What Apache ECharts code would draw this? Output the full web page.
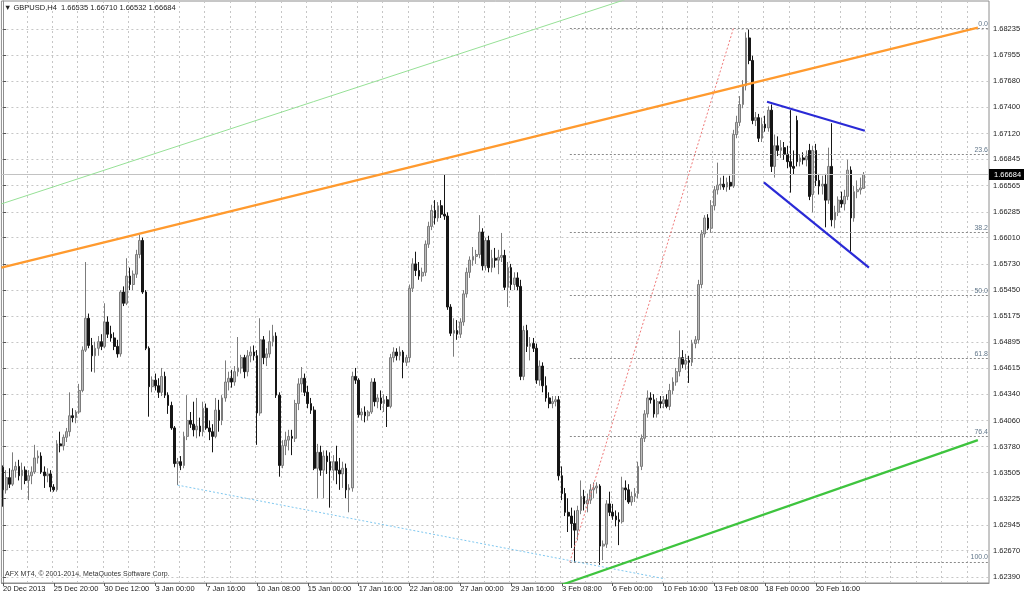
<!DOCTYPE html>
<html><head><meta charset="utf-8">
<script src="https://cdn.jsdelivr.net/npm/echarts@6/dist/echarts.min.js"></script>
<style>html,body{margin:0;padding:0;background:#fff}#c{width:1024px;height:595px}</style>
</head><body><div id="c"></div>
<script>
// ---------------- data ----------------
const symbolName = 'GBPUSD,H4';
const headerValues = ['1.66535', '1.66710', '1.66532', '1.66684'];
const copyrightText = 'AFX MT4, \u00a9 2001-2014, MetaQuotes Software Corp.';
const xTickLabels = ['20 Dec 2013', '25 Dec 20:00', '30 Dec 12:00', '3 Jan 00:00', '7 Jan 16:00', '10 Jan 08:00',
  '15 Jan 00:00', '17 Jan 16:00', '22 Jan 08:00', '27 Jan 00:00', '29 Jan 16:00', '3 Feb 08:00', '6 Feb 00:00',
  '10 Feb 16:00', '13 Feb 08:00', '18 Feb 00:00', '20 Feb 16:00'];
const barsPerLabel = 16;
const barsPerGridLine = 8;
const totalSlots = 311;
const yTickLabels = ['1.68235', '1.67955', '1.67680', '1.67400', '1.67120', '1.66845', '1.66565', '1.66285',
  '1.66010', '1.65730', '1.65450', '1.65175', '1.64895', '1.64615', '1.64340', '1.64060', '1.63780', '1.63505',
  '1.63225', '1.62945', '1.62670', '1.62390'];
const yMin = 1.62326, yMax = 1.68534;
const lastPrice = 1.66684;
// H4 candles: [open, close, low, high]
const ohlc = [
[1.6356,1.6332,1.6314,1.6358],[1.6332,1.6345,1.6328,1.6353],[1.6345,1.6338,1.6334,1.6355],[1.6338,1.6353,1.6336,1.6372],
[1.6353,1.6357,1.6345,1.6362],[1.6357,1.6347,1.6342,1.6364],[1.6347,1.6353,1.6332,1.6361],[1.6353,1.6342,1.6338,1.6357],
[1.6342,1.6347,1.6321,1.6353],[1.6347,1.6351,1.6338,1.6357],[1.6351,1.6366,1.6349,1.6380],[1.6366,1.6368,1.6360,1.6374],
[1.6368,1.6351,1.6349,1.6372],[1.6351,1.6347,1.6334,1.6357],[1.6347,1.6349,1.6340,1.6355],[1.6349,1.6335,1.6330,1.6353],
[1.6335,1.6332,1.6330,1.6338],[1.6332,1.6381,1.6330,1.6385],[1.6381,1.6379,1.6372,1.6394],[1.6379,1.6388,1.6374,1.6391],
[1.6388,1.6394,1.6383,1.6398],[1.6394,1.6411,1.6389,1.6436],[1.6411,1.6409,1.6404,1.6419],[1.6409,1.6415,1.6403,1.6417],
[1.6415,1.6438,1.6413,1.6445],[1.6438,1.6481,1.6436,1.6485],[1.6481,1.6515,1.6479,1.6575],[1.6515,1.6486,1.6483,1.6520],
[1.6486,1.6475,1.6458,1.6494],[1.6475,1.6483,1.6457,1.6490],[1.6483,1.6490,1.6475,1.6496],[1.6490,1.6485,1.6481,1.6498],
[1.6485,1.6511,1.6483,1.6531],[1.6511,1.6498,1.6494,1.6517],[1.6498,1.6494,1.6490,1.6507],[1.6494,1.6485,1.6481,1.6500],
[1.6485,1.6477,1.6473,1.6492],[1.6477,1.6543,1.6474,1.6545],[1.6543,1.6531,1.6528,1.6549],[1.6531,1.6560,1.6529,1.6579],
[1.6560,1.6551,1.6545,1.6569],[1.6551,1.6562,1.6545,1.6566],[1.6562,1.6583,1.6558,1.6588],[1.6583,1.6598,1.6579,1.6604],
[1.6598,1.6543,1.6541,1.6601],[1.6543,1.6483,1.6481,1.6545],[1.6483,1.6442,1.6410,1.6485],[1.6442,1.6449,1.6436,1.6453],
[1.6449,1.6443,1.6438,1.6456],[1.6443,1.6436,1.6430,1.6451],[1.6436,1.6453,1.6432,1.6462],[1.6453,1.6433,1.6430,1.6458],
[1.6433,1.6422,1.6413,1.6436],[1.6422,1.6398,1.6396,1.6426],[1.6398,1.6360,1.6356,1.6400],[1.6360,1.6362,1.6337,1.6366],
[1.6362,1.6358,1.6353,1.6368],[1.6358,1.6389,1.6355,1.6394],[1.6389,1.6406,1.6385,1.6433],[1.6406,1.6402,1.6398,1.6415],
[1.6402,1.6396,1.6389,1.6426],[1.6396,1.6400,1.6387,1.6430],[1.6400,1.6394,1.6389,1.6409],[1.6394,1.6419,1.6389,1.6426],
[1.6419,1.6398,1.6396,1.6424],[1.6398,1.6394,1.6385,1.6406],[1.6394,1.6389,1.6372,1.6402],[1.6389,1.6417,1.6387,1.6430],
[1.6417,1.6406,1.6394,1.6428],[1.6406,1.6430,1.6401,1.6433],[1.6430,1.6447,1.6426,1.6470],[1.6447,1.6451,1.6438,1.6458],
[1.6451,1.6447,1.6441,1.6460],[1.6447,1.6458,1.6443,1.6464],[1.6458,1.6462,1.6453,1.6495],[1.6462,1.6473,1.6456,1.6476],
[1.6473,1.6458,1.6451,1.6476],[1.6458,1.6475,1.6453,1.6481],[1.6475,1.6479,1.6468,1.6485],[1.6479,1.6475,1.6470,1.6486],
[1.6475,1.6414,1.6380,1.6481],[1.6414,1.6492,1.6411,1.6515],[1.6492,1.6473,1.6466,1.6496],[1.6473,1.6477,1.6464,1.6483],
[1.6477,1.6490,1.6473,1.6502],[1.6490,1.6496,1.6485,1.6508],[1.6496,1.6433,1.6430,1.6500],[1.6433,1.6358,1.6346,1.6436],
[1.6358,1.6379,1.6355,1.6385],[1.6379,1.6385,1.6369,1.6394],[1.6385,1.6389,1.6374,1.6396],[1.6389,1.6387,1.6369,1.6396],
[1.6387,1.6424,1.6383,1.6428],[1.6424,1.6445,1.6417,1.6451],[1.6445,1.6451,1.6436,1.6463],[1.6451,1.6436,1.6432,1.6456],
[1.6436,1.6424,1.6419,1.6443],[1.6424,1.6417,1.6413,1.6430],[1.6417,1.6355,1.6353,1.6421],[1.6355,1.6372,1.6323,1.6381],
[1.6372,1.6353,1.6347,1.6379],[1.6353,1.6368,1.6323,1.6374],[1.6368,1.6362,1.6349,1.6374],[1.6362,1.6353,1.6313,1.6372],
[1.6353,1.6362,1.6342,1.6369],[1.6362,1.6353,1.6338,1.6379],[1.6353,1.6349,1.6332,1.6366],[1.6349,1.6355,1.6334,1.6362],
[1.6355,1.6332,1.6323,1.6360],[1.6332,1.6334,1.6308,1.6338],[1.6334,1.6453,1.6330,1.6458],[1.6453,1.6449,1.6445,1.6462],
[1.6449,1.6412,1.6409,1.6451],[1.6412,1.6415,1.6406,1.6419],[1.6415,1.6411,1.6404,1.6421],[1.6411,1.6415,1.6406,1.6417],
[1.6415,1.6447,1.6413,1.6451],[1.6447,1.6426,1.6421,1.6451],[1.6426,1.6430,1.6419,1.6434],[1.6430,1.6424,1.6417,1.6438],
[1.6424,1.6428,1.6415,1.6434],[1.6428,1.6421,1.6399,1.6432],[1.6421,1.6473,1.6419,1.6477],[1.6473,1.6479,1.6468,1.6484],
[1.6479,1.6475,1.6470,1.6483],[1.6475,1.6479,1.6470,1.6485],[1.6479,1.6468,1.6451,1.6481],[1.6468,1.6473,1.6464,1.6476],
[1.6473,1.6547,1.6468,1.6551],[1.6547,1.6573,1.6543,1.6579],[1.6573,1.6566,1.6560,1.6586],[1.6566,1.6560,1.6556,1.6575],
[1.6560,1.6564,1.6554,1.6569],[1.6564,1.6594,1.6560,1.6598],[1.6594,1.6613,1.6590,1.6618],[1.6613,1.6630,1.6609,1.6636],
[1.6630,1.6622,1.6615,1.6641],[1.6622,1.6635,1.6618,1.6639],[1.6635,1.6626,1.6622,1.6641],[1.6626,1.6624,1.6620,1.6668],
[1.6624,1.6527,1.6524,1.6628],[1.6527,1.6499,1.6496,1.6530],[1.6499,1.6502,1.6474,1.6515],[1.6502,1.6498,1.6492,1.6513],
[1.6498,1.6511,1.6494,1.6515],[1.6511,1.6541,1.6507,1.6545],[1.6541,1.6564,1.6537,1.6569],[1.6564,1.6577,1.6558,1.6581],
[1.6577,1.6581,1.6571,1.6591],[1.6581,1.6583,1.6573,1.6588],[1.6583,1.6607,1.6579,1.6625],[1.6607,1.6571,1.6566,1.6611],
[1.6571,1.6598,1.6566,1.6601],[1.6598,1.6569,1.6564,1.6603],[1.6569,1.6579,1.6564,1.6588],[1.6579,1.6577,1.6569,1.6590],
[1.6577,1.6580,1.6562,1.6588],[1.6580,1.6582,1.6575,1.6606],[1.6582,1.6548,1.6545,1.6588],[1.6548,1.6569,1.6527,1.6575],
[1.6569,1.6551,1.6545,1.6573],[1.6551,1.6558,1.6545,1.6564],[1.6558,1.6549,1.6545,1.6564],[1.6549,1.6453,1.6449,1.6556],
[1.6453,1.6502,1.6449,1.6507],[1.6502,1.6485,1.6479,1.6508],[1.6485,1.6488,1.6470,1.6495],[1.6488,1.6483,1.6479,1.6494],
[1.6483,1.6449,1.6445,1.6488],[1.6449,1.6464,1.6443,1.6470],[1.6464,1.6443,1.6436,1.6468],[1.6443,1.6430,1.6426,1.6453],
[1.6430,1.6424,1.6419,1.6436],[1.6424,1.6426,1.6419,1.6432],[1.6426,1.6428,1.6421,1.6432],[1.6428,1.6347,1.6342,1.6432],
[1.6347,1.6328,1.6321,1.6357],[1.6328,1.6308,1.6304,1.6334],[1.6308,1.6304,1.6287,1.6323],[1.6304,1.6296,1.6270,1.6313],
[1.6296,1.6289,1.6255,1.6310],[1.6289,1.6310,1.6278,1.6315],[1.6310,1.6325,1.6306,1.6342],[1.6325,1.6317,1.6310,1.6332],
[1.6317,1.6321,1.6308,1.6328],[1.6321,1.6332,1.6317,1.6338],[1.6332,1.6334,1.6323,1.6340],[1.6334,1.6336,1.6328,1.6340],
[1.6336,1.6272,1.6252,1.6338],[1.6272,1.6274,1.6257,1.6278],[1.6274,1.6317,1.6270,1.6321],[1.6317,1.6308,1.6304,1.6330],
[1.6308,1.6304,1.6300,1.6317],[1.6304,1.6300,1.6293,1.6310],[1.6300,1.6298,1.6273,1.6308],[1.6298,1.6334,1.6296,1.6346],
[1.6334,1.6332,1.6321,1.6342],[1.6332,1.6319,1.6317,1.6338],[1.6319,1.6325,1.6315,1.6330],[1.6325,1.6328,1.6319,1.6334],
[1.6328,1.6357,1.6323,1.6362],[1.6357,1.6387,1.6353,1.6391],[1.6387,1.6413,1.6383,1.6417],[1.6413,1.6430,1.6409,1.6438],
[1.6430,1.6428,1.6424,1.6436],[1.6428,1.6413,1.6409,1.6434],[1.6413,1.6426,1.6409,1.6430],[1.6426,1.6424,1.6419,1.6432],
[1.6424,1.6428,1.6419,1.6432],[1.6428,1.6421,1.6419,1.6434],[1.6421,1.6438,1.6417,1.6445],[1.6438,1.6447,1.6434,1.6452],
[1.6447,1.6458,1.6443,1.6462],[1.6458,1.6473,1.6453,1.6502],[1.6473,1.6466,1.6462,1.6481],[1.6466,1.6470,1.6460,1.6477],
[1.6470,1.6468,1.6446,1.6475],[1.6468,1.6488,1.6464,1.6492],[1.6488,1.6492,1.6483,1.6496],[1.6492,1.6551,1.6488,1.6556],
[1.6551,1.6605,1.6547,1.6609],[1.6605,1.6622,1.6601,1.6625],[1.6622,1.6611,1.6609,1.6626],[1.6611,1.6635,1.6607,1.6641],
[1.6635,1.6652,1.6630,1.6656],[1.6652,1.6657,1.6647,1.6681],[1.6657,1.6658,1.6652,1.6665],[1.6658,1.6655,1.6652,1.6667],
[1.6655,1.6660,1.6650,1.6665],[1.6660,1.6656,1.6652,1.6667],[1.6656,1.6711,1.6654,1.6716],[1.6711,1.6724,1.6707,1.6731],
[1.6724,1.6743,1.6720,1.6752],[1.6743,1.6763,1.6739,1.6769],[1.6763,1.6814,1.6758,1.6820],[1.6814,1.6790,1.6786,1.6823],
[1.6790,1.6726,1.6722,1.6795],[1.6726,1.6729,1.6720,1.6735],[1.6729,1.6707,1.6703,1.6733],[1.6707,1.6722,1.6703,1.6729],
[1.6722,1.6718,1.6714,1.6731],[1.6718,1.6737,1.6714,1.6741],[1.6737,1.6677,1.6671,1.6743],[1.6677,1.6699,1.6665,1.6711],
[1.6699,1.6694,1.6688,1.6709],[1.6694,1.6697,1.6686,1.6705],[1.6697,1.6690,1.6684,1.6703],[1.6690,1.6682,1.6675,1.6699],
[1.6682,1.6677,1.6649,1.6737],[1.6677,1.6675,1.6668,1.6694],[1.6726,1.6682,1.6677,1.6731],[1.6682,1.6686,1.6677,1.6690],
[1.6686,1.6684,1.6679,1.6692],[1.6684,1.6688,1.6677,1.6694],[1.6694,1.6645,1.6641,1.6701],[1.6647,1.6694,1.6628,1.6699],
[1.6694,1.6662,1.6656,1.6701],[1.6662,1.6656,1.6647,1.6669],[1.6656,1.6658,1.6647,1.6667],[1.6658,1.6641,1.6612,1.6669],
[1.6641,1.6677,1.6637,1.6697],[1.6677,1.6620,1.6613,1.6723],[1.6620,1.6628,1.6611,1.6635],[1.6628,1.6641,1.6624,1.6645],
[1.6641,1.6637,1.6633,1.6650],[1.6637,1.6645,1.6630,1.6652],[1.6645,1.6673,1.6641,1.6684],[1.6673,1.6622,1.6586,1.6677],
[1.6622,1.6650,1.6618,1.6656],[1.6650,1.6652,1.6643,1.6662],[1.6652,1.6654,1.6647,1.6665],[1.66535,1.66684,1.66532,1.66710]
];
// drawn objects: [barIndex, price] anchor points
const orangeTrend = [[-0.5, 1.6569], [307, 1.6825]];
const lightGreenTrend = [[-0.5, 1.6637], [196, 1.6855]];
const greenTrend = [[172, 1.6226], [307, 1.6385]];
const cyanTrend = [[55, 1.6337], [208.5, 1.6237]];
const blueUpper = [[240.6, 1.6746], [271.4, 1.6715]];
const blueLower = [[239.6, 1.6660], [272.7, 1.6569]];
const fibAnchors = [[178.5, 1.6255], [230, 1.6824]];
const fibLevels = [0.0, 23.6, 38.2, 50.0, 61.8, 76.4, 100.0];

// ---------------- chart ----------------
const FONT = '"Liberation Sans", Arial, sans-serif';
const chart = echarts.init(document.getElementById('c'), null, {renderer: 'canvas', width: 1024, height: 595});
const slotNames = Array.from({length: totalSlots}, (_, i) => String(i));
const isLabelSlot = i => i % barsPerLabel === 0 && i / barsPerLabel < xTickLabels.length;
const isGridSlot = i => i > 0 && i % barsPerGridLine === 0;
const yTickValues = yTickLabels.map(Number);
const fibLow = fibAnchors[0][1], fibHigh = fibAnchors[1][1];
const fibPrice = r => fibHigh - (fibHigh - fibLow) * r / 100;
const xEdgeLeft = -0.5, xEdgeRight = totalSlots - 0.5;

function trend(data, color, width, type, z) {
  return {type: 'line', xAxisIndex: 1, yAxisIndex: 0, data: data, symbol: 'none', silent: true,
    animation: false, clip: true, lineStyle: {color: color, width: width, type: type}, z: z || 5};
}

const option = {
  animation: false,
  backgroundColor: '#ffffff',
  grid: {left: 1, top: 1, right: 35, bottom: 12, show: true, borderColor: '#8e8e8e', borderWidth: 1, backgroundColor: '#ffffff'},
  xAxis: [{
    type: 'category', data: slotNames, boundaryGap: true,
    axisLine: {show: true, lineStyle: {color: '#8e8e8e'}},
    axisTick: {show: true, alignWithLabel: true, interval: isLabelSlot, length: 3, lineStyle: {color: '#555'}},
    axisLabel: {interval: isLabelSlot, formatter: (v, idx) => xTickLabels[idx / barsPerLabel] || '', align: 'left',
      fontSize: 7.5, fontFamily: FONT, color: '#222', margin: 2},
    splitLine: {show: true, interval: isGridSlot, lineStyle: {color: '#c6c6c6', type: [2, 3], width: 1}}
  }, {
    type: 'value', min: xEdgeLeft, max: xEdgeRight, show: false
  }],
  yAxis: {
    type: 'value', position: 'right', min: yMin, max: yMax,
    axisLine: {show: true, lineStyle: {color: '#8e8e8e'}},
    axisTick: {show: true, length: 3, customValues: yTickValues, lineStyle: {color: '#555'}},
    axisLabel: {customValues: yTickValues, formatter: v => v.toFixed(5), fontSize: 7.5, fontFamily: FONT, color: '#222', margin: 4},
    splitLine: {show: true, lineStyle: {color: '#c6c6c6', type: [2, 3], width: 1}}
  },
  graphic: [
    {type: 'text', left: 4, top: 4, silent: true,
      style: {text: '\u25bc ' + symbolName + '  ' + headerValues.join(' '), font: '7.5px ' + FONT, fill: '#222'}},
    {type: 'text', left: 5, top: 571, silent: true,
      style: {text: copyrightText, font: '7px ' + FONT, fill: '#333'}}
  ],
  series: [
    {
      type: 'line', xAxisIndex: 1, yAxisIndex: 0, data: [[xEdgeLeft, lastPrice]], symbol: 'none', silent: true,
      lineStyle: {opacity: 0}, z: 1,
      markLine: {
        symbol: 'none', silent: true, animation: false,
        lineStyle: {color: '#c2c2c2', type: 'solid', width: 1},
        label: {show: true, position: 'end', formatter: lastPrice.toFixed(5), backgroundColor: '#000', color: '#fff',
          padding: [2, 4, 1, 5], fontSize: 7.5, fontFamily: FONT, distance: 0},
        data: [[{coord: [xEdgeLeft, lastPrice]}, {coord: [xEdgeRight, lastPrice]}]]
      }
    },
    {
      type: 'candlestick', data: ohlc, xAxisIndex: 0, yAxisIndex: 0, barWidth: '70%', z: 3,
      itemStyle: {color: '#bcbcbc', color0: '#161616', borderColor: '#7c7c7c', borderColor0: '#161616', borderWidth: 1}
    },
    {
      type: 'line', xAxisIndex: 1, yAxisIndex: 0, data: [fibAnchors[0]], symbol: 'none', silent: true,
      lineStyle: {opacity: 0}, z: 4,
      markLine: {
        symbol: 'none', silent: true, animation: false,
        lineStyle: {color: '#8a8a8a', type: [2, 2], width: 1},
        label: {show: true, position: 'insideEndTop', formatter: '{b}', fontSize: 7, fontFamily: FONT, color: '#62778a', distance: [1, 1]},
        data: fibLevels.map(l => [{coord: [fibAnchors[0][0], fibPrice(l)], name: l.toFixed(1)},
                                  {coord: [xEdgeRight, fibPrice(l)]}])
      }
    },
    trend(fibAnchors, '#f07a7a', 1, [2, 2]),
    trend(cyanTrend, '#7fc8f0', 1, [2, 2]),
    trend(lightGreenTrend, '#96e096', 1, 'solid'),
    trend(orangeTrend, '#ff9a2e', 2.2, 'solid'),
    trend(greenTrend, '#3ec43e', 2.2, 'solid'),
    trend(blueUpper, '#2a2ad6', 2.2, 'solid'),
    trend(blueLower, '#2a2ad6', 2.2, 'solid')
  ]
};
chart.setOption(option);
</script>
</body></html>
